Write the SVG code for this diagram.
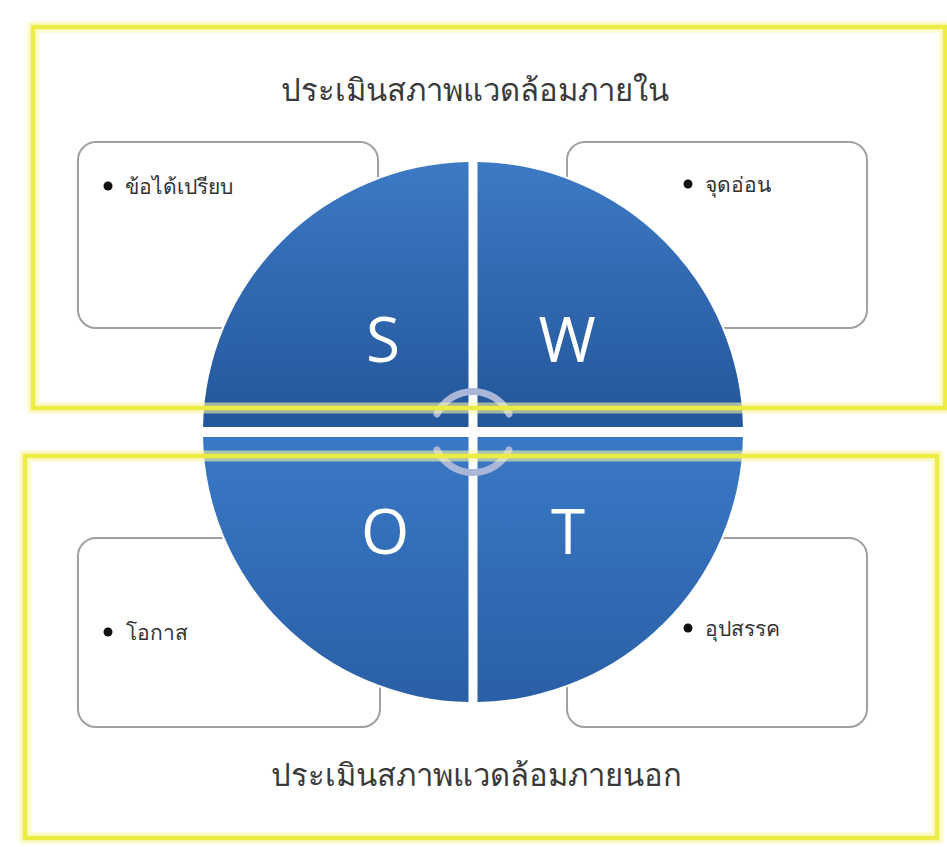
<svg xmlns="http://www.w3.org/2000/svg" width="947" height="847" viewBox="0 0 947 847">
<defs>
<linearGradient id="gTop" gradientUnits="userSpaceOnUse" x1="0" y1="162" x2="0" y2="427">
<stop offset="0" stop-color="#3d79c4"/>
<stop offset="1" stop-color="#23569a"/>
</linearGradient>
<linearGradient id="gBot" gradientUnits="userSpaceOnUse" x1="0" y1="437" x2="0" y2="702">
<stop offset="0" stop-color="#3a79c6"/>
<stop offset="1" stop-color="#2a5fa6"/>
</linearGradient>
</defs>
<style>
.box{fill:#ffffff;stroke:#a0a0a0;stroke-width:2}
.item{font-family:"Noto Sans","DejaVu Sans",sans-serif;font-size:21px;fill:#333333}
.title{font-family:"Noto Sans","DejaVu Sans",sans-serif;font-size:31px;fill:#3a3a3a;text-anchor:middle}
.letter{font-family:"Open Sans","Liberation Sans",sans-serif;font-size:62px;fill:#ffffff;text-anchor:middle}
.glow{fill:none;stroke:#f6f6a8;stroke-width:11;opacity:0.6}
.frame{fill:none;stroke:#ecec45;stroke-width:4.5}
.ring{fill:none;stroke:#aab6d8;stroke-width:7;stroke-linecap:round}
</style>
<rect width="947" height="847" fill="#ffffff"/>

<g id="box-strengths">
<rect class="box" x="78" y="142" width="300" height="186" rx="18"/>
<circle cx="108" cy="186" r="4.5" fill="#111"/>
<text class="item" x="125" y="194">ข้อได้เปรียบ</text>
</g>
<g id="box-weaknesses">
<rect class="box" x="567" y="142" width="300" height="186" rx="18"/>
<circle cx="688" cy="184" r="4.5" fill="#111"/>
<text class="item" x="705" y="192">จุดอ่อน</text>
</g>
<g id="box-opportunities">
<rect class="box" x="78" y="538" width="302" height="189" rx="18"/>
<circle cx="108" cy="632" r="4.5" fill="#111"/>
<text class="item" x="126" y="640">โอกาส</text>
</g>
<g id="box-threats">
<rect class="box" x="567" y="538" width="300" height="189" rx="18"/>
<circle cx="688" cy="628" r="4.5" fill="#111"/>
<text class="item" x="705" y="636">อุปสรรค</text>
</g>

<g id="swot-circle">
<circle cx="473" cy="432" r="272" fill="#ffffff"/>
<g id="q-S">
<path d="M468.5,427 L203.05,427 A270,270 0 0 1 468.5,162.04 Z" fill="url(#gTop)"/>
<text class="letter" x="383" y="362">S</text>
</g>
<g id="q-W">
<path d="M477.5,427 L477.5,162.04 A270,270 0 0 1 742.95,427 Z" fill="url(#gTop)"/>
<text class="letter" x="567" y="362">W</text>
</g>
<g id="q-O">
<path d="M468.5,437 L468.5,701.96 A270,270 0 0 1 203.05,437 Z" fill="url(#gBot)"/>
<text class="letter" x="385" y="554">O</text>
</g>
<g id="q-T">
<path d="M477.5,437 L742.95,437 A270,270 0 0 1 477.5,701.96 Z" fill="url(#gBot)"/>
<text class="letter" x="568" y="554">T</text>
</g>
<g id="center-ring">
<path class="ring" d="M437,414 A40,40 0 0 1 509,414"/>
<path class="ring" d="M437,450 A40,40 0 0 0 509,450"/>
</g>
</g>

<g id="frame-internal">
<rect class="glow" x="33" y="27" width="912" height="381"/>
<rect class="frame" x="33" y="27" width="912" height="381"/>
<text class="title" x="475" y="101">ประเมินสภาพแวดล้อมภายใน</text>
</g>
<g id="frame-external">
<rect class="glow" x="25" y="456" width="912" height="382"/>
<rect class="frame" x="25" y="456" width="912" height="382"/>
<text class="title" x="476" y="786">ประเมินสภาพแวดล้อมภายนอก</text>
</g>
</svg>
